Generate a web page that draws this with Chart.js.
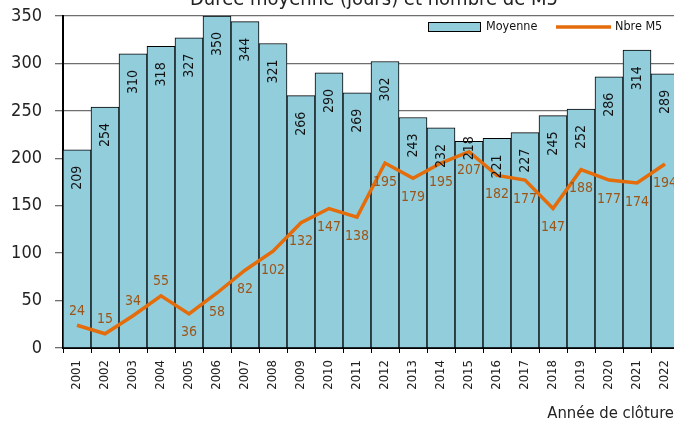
<!DOCTYPE html>
<html>
<head>
<meta charset="utf-8">
<script src="https://cdn.jsdelivr.net/npm/chart.js@4/dist/chart.umd.min.js"></script>
<style>
  html, body { margin: 0; padding: 0; overflow: hidden; background: #fff; }
  #wrap { position: absolute; left: 0; top: 0; width: 690px; height: 421px; }
</style>
</head>
<body>
<div id="wrap"><canvas id="chart"></canvas></div>
<script>
const years = ["2001","2002","2003","2004","2005","2006","2007","2008","2009","2010","2011",
               "2012","2013","2014","2015","2016","2017","2018","2019","2020","2021","2022"];
const moyenne = [209,254,310,318,327,350,344,321,266,290,269,302,243,232,218,221,227,245,252,286,314,289];
const nbreM5 = [24,15,34,55,36,58,82,102,132,147,138,195,179,195,207,182,177,147,188,177,174,194];
const yTicks = [0,50,100,150,200,250,300,350];

const FONT = "'DejaVu Sans Condensed', 'Liberation Sans Narrow', sans-serif";
const BAR_FILL = "#92cddc";
const LINE_COL = "#e46c0a";
const LINE_LABEL = "#9c5518";

// labels, title and legend drawn on top of the chart
const overlay = {
    id: "overlay",
    afterDatasetsDraw(chart) {
        const ctx = chart.ctx;
        ctx.save();

        // bar values, rotated, inside the top of each bar
        const bars = chart.getDatasetMeta(0).data;
        ctx.font = "14px " + FONT;
        ctx.fillStyle = "#111";
        ctx.textAlign = "right";
        ctx.textBaseline = "middle";
        bars.forEach((bar, i) => {
            let y = bar.y + 16;
            if (years[i] === "2015") y = bar.y - 5; // moved up, clear of the line label
            ctx.save();
            ctx.translate(bar.x, y);
            ctx.rotate(-Math.PI / 2);
            ctx.fillText(String(moyenne[i]), 0, 0);
            ctx.restore();
        });

        // line values
        const pts = chart.getDatasetMeta(1).data;
        ctx.fillStyle = LINE_LABEL;
        ctx.textAlign = "center";
        pts.forEach((p, i) => {
            const y = i < 4 ? p.y - 14 : p.y + 19;
            ctx.fillText(String(nbreM5[i]), p.x, y);
        });

        // title (cropped at the top like the original)
        ctx.fillStyle = "#222";
        ctx.font = "20px " + FONT;
        ctx.textBaseline = "alphabetic";
        ctx.fillText("Durée moyenne (jours) et nombre de M5", 374, 5);

        // axis title
        ctx.font = "16.5px " + FONT;
        ctx.textAlign = "right";
        ctx.fillText("Année de clôture", 674, 418);

        // legend
        ctx.font = "12.5px " + FONT;
        ctx.textAlign = "left";
        ctx.textBaseline = "middle";
        ctx.fillStyle = BAR_FILL;
        ctx.fillRect(428, 22.5, 52, 9);
        ctx.strokeStyle = "#000";
        ctx.lineWidth = 1;
        ctx.strokeRect(428.5, 22.5, 52, 9);
        ctx.fillStyle = "#111";
        ctx.fillText("Moyenne", 486, 27);
        ctx.strokeStyle = LINE_COL;
        ctx.lineWidth = 3.5;
        ctx.beginPath();
        ctx.moveTo(556, 27);
        ctx.lineTo(611, 27);
        ctx.stroke();
        ctx.fillText("Nbre M5", 615, 27);

        ctx.restore();
    }
};

new Chart(document.getElementById("chart"), {
    type: "bar",
    data: {
        labels: years,
        datasets: [
            {
                type: "bar",
                label: "Moyenne",
                data: moyenne,
                backgroundColor: BAR_FILL,
                borderColor: "#000",
                borderWidth: 1,
                categoryPercentage: 1,
                barPercentage: 1,
                order: 2
            },
            {
                type: "line",
                label: "Nbre M5",
                data: nbreM5,
                borderColor: LINE_COL,
                borderWidth: 3.5,
                pointRadius: 0,
                tension: 0,
                order: 1
            }
        ]
    },
    options: {
        responsive: true,
        maintainAspectRatio: false,
        animation: false,
        devicePixelRatio: 1,
        layout: { padding: { top: 16, right: 11, left: 0, bottom: 0 } },
        plugins: {
            legend: { display: false },
            title: { display: false },
            tooltip: { enabled: false }
        },
        scales: {
            x: {
                grid: {
                    offset: true,
                    drawOnChartArea: false,
                    tickLength: 5,
                    color: "#000",
                    lineWidth: 1
                },
                border: { color: "#000", width: 2 },
                ticks: {
                    minRotation: 90,
                    maxRotation: 90,
                    autoSkip: false,
                    padding: 7,
                    color: "#222",
                    font: { family: FONT, size: 13 }
                },
                afterFit(scale) { scale.height = 73; }
            },
            y: {
                min: yTicks[0],
                max: yTicks[yTicks.length - 1],
                afterBuildTicks(scale) { scale.ticks = yTicks.map(v => ({ value: v })); },
                grid: {
                    color: "#6e6e6e",
                    lineWidth: 1.3,
                    tickLength: 8
                },
                border: { color: "#000", width: 2 },
                ticks: {
                    padding: 13,
                    color: "#222",
                    font: { family: FONT, size: 18 }
                },
                afterFit(scale) {
                    scale.width = 63;
                    // the tick padding should not push the plot top down
                    scale.paddingTop = 10;
                    scale.paddingBottom = 10;
                }
            }
        }
    },
    plugins: [overlay]
});
</script>
</body>
</html>
